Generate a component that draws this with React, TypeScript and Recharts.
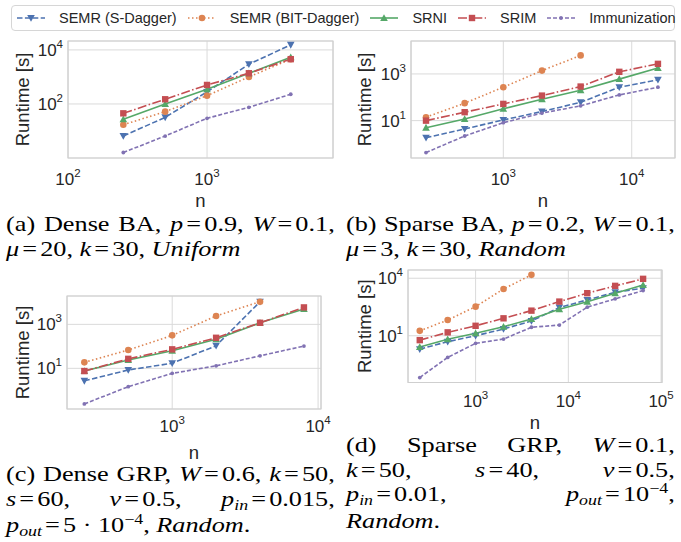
import React from 'react';
import { LineChart, Line, XAxis, YAxis, CartesianGrid, ReferenceArea, Label } from 'recharts';

// ---- data ----
const N_A = [250, 500, 1000, 2000, 4000];
const A_SDAGGER = [6.5, 32, 280, 2950, 15400];
const A_BIT = [17, 52, 203, 1000, 4550];
const A_SRNI = [27, 100, 350, 1370, 5350];
const A_SRIM = [45, 149, 505, 1370, 4550];
const A_IMM = [1.6, 6.5, 29.5, 75, 229];

const N_B = [250, 500, 1000, 2000, 4000, 8000, 16000];
const B_SDAGGER = [1.87, 4.4, 10.7, 24.5, 61, 270, 560];
const B_BIT = [14, 56, 270, 1390, 6200];
const B_SRNI = [5, 11.8, 32, 83, 200, 600, 1780];
const B_SRIM = [10, 23, 52, 118, 288, 1230, 2700];
const B_IMM = [0.43, 2.2, 8.2, 21, 43, 126, 270];

const N_C = [250, 500, 1000, 2000, 4000, 8000];
const C_SDAGGER = [2.7, 8.4, 17, 106, 10700];
const C_BIT = [18.7, 68, 316, 2400, 10700];
const C_SRNI = [7.5, 24, 63, 210, 1180, 5000];
const C_SRIM = [7.5, 27, 73, 245, 1180, 5900];
const C_IMM = [0.24, 1.46, 5.9, 13, 37, 103];

const N_D = [250, 500, 1000, 2000, 4000, 8000, 16000, 32000, 64000];
const D_SDAGGER = [2.0, 4.9, 10, 22.4, 59, 295, 740, 1860, 3000];
const D_BIT = [18, 66, 330, 2750, 15000];
const D_SRNI = [2.6, 6.5, 13.4, 29.5, 75, 240, 600, 1660, 4470];
const D_SRIM = [5.9, 15, 33, 81, 204, 605, 1660, 4000, 9300];
const D_IMM = [0.066, 0.74, 4.0, 6.7, 27.7, 36, 310, 840, 2280];

const SERIES_NAMES = ['SEMR (S-Dagger)', 'SEMR (BIT-Dagger)', 'SRNI', 'SRIM', 'Immunization'];
const Y_LABEL = 'Runtime [s]';
const X_LABEL = 'n';

const SANS = '"Liberation Sans", Arial, sans-serif';
const SERIF = '"Liberation Serif", "Times New Roman", serif';
const INK = '#262626';

const STYLES = [
  { key: 'sd', color: '#4C72B0', dash: '5.5 2.4', marker: 'triDown' },
  { key: 'bit', color: '#DD8452', dash: '1.5 2.5', marker: 'circle' },
  { key: 'srni', color: '#55A868', dash: undefined, marker: 'triUp' },
  { key: 'srim', color: '#C44E52', dash: '9 2.4 1.5 2.4', marker: 'square' },
  { key: 'imm', color: '#8172B3', dash: '4 2', marker: 'small' },
];

function buildRows(ns: number[], sd: number[], bit: number[], srni: number[], srim: number[], imm: number[]) {
  return ns.map((n, i) => ({ n, sd: sd[i], bit: bit[i], srni: srni[i], srim: srim[i], imm: imm[i] }));
}

function Marker({ kind, cx, cy, color }: { kind: string; cx: number; cy: number; color: string }) {
  if (kind === 'triDown')
    return <polygon points={`${cx - 3.8},${cy - 3} ${cx + 3.8},${cy - 3} ${cx},${cy + 3.8}`} fill={color} />;
  if (kind === 'triUp')
    return <polygon points={`${cx - 3.8},${cy + 3} ${cx + 3.8},${cy + 3} ${cx},${cy - 3.8}`} fill={color} />;
  if (kind === 'square') return <rect x={cx - 3.2} y={cy - 3.2} width={6.4} height={6.4} fill={color} />;
  if (kind === 'circle') return <circle cx={cx} cy={cy} r={3.3} fill={color} />;
  return <circle cx={cx} cy={cy} r={1.9} fill={color} />;
}

const makeDot = (kind: string, color: string) => (props: any) => {
  const { cx, cy, value, key, index } = props;
  if (cx == null || cy == null || value == null) return <g key={key ?? index} />;
  return <Marker key={key ?? index} kind={kind} cx={cx} cy={cy} color={color} />;
};

const xTick = (dy: number) => (props: any) => {
  const { x, y, payload } = props;
  const e = Math.round(Math.log10(payload.value));
  return (
    <text x={x} y={y + dy} textAnchor="middle" fill={INK} fontSize={17} fontFamily={SANS}>
      <tspan>10</tspan>
      <tspan dy={-8} fontSize={11.5}>{e}</tspan>
    </text>
  );
};

const yTick = (props: any) => {
  const { x, y, payload } = props;
  const e = Math.round(Math.log10(payload.value));
  return (
    <text x={x - 5} y={y + 6} textAnchor="end" fill={INK} fontSize={17} fontFamily={SANS}>
      <tspan>10</tspan>
      <tspan dy={-8} fontSize={11.5}>{e}</tspan>
    </text>
  );
};

type PanelProps = {
  left: number; top: number; width: number; height: number;
  mTop: number; mRight: number; yw: number; xh: number;
  xDomain: number[]; yDomain: number[]; xTicks: number[]; yTicks: number[];
  tickDy: number; nDy: number; yLabelX: number; rows: any[];
};

function Panel(p: PanelProps) {
  const plotTop = p.mTop;
  const plotBottom = p.height - p.xh;
  const plotLeft = p.yw;
  const plotRight = p.width - p.mRight;
  const cy = (plotTop + plotBottom) / 2;
  return (
    <div style={{ position: 'absolute', left: p.left, top: p.top }}>
      <LineChart width={p.width} height={p.height} data={p.rows}
        margin={{ top: p.mTop, right: p.mRight, left: 0, bottom: 0 }}>
        <CartesianGrid stroke="#dadada" strokeWidth={1} />
        <XAxis dataKey="n" type="number" scale="log" domain={p.xDomain} allowDataOverflow
          ticks={p.xTicks} interval={0} tick={xTick(p.tickDy)} tickLine={false} axisLine={false}
          tickSize={0} tickMargin={0} height={p.xh}>
          <Label content={() => (
            <text x={(plotLeft + plotRight) / 2} y={plotBottom + p.nDy} textAnchor="middle"
              dominantBaseline="central" fill={INK} fontSize={18.5} fontFamily={SANS}>{X_LABEL}</text>
          )} />
        </XAxis>
        <YAxis type="number" scale="log" domain={p.yDomain} allowDataOverflow
          ticks={p.yTicks} interval={0} tick={yTick} tickLine={false} axisLine={false}
          tickSize={0} tickMargin={0} width={p.yw}>
          <Label content={() => (
            <text x={p.yLabelX} y={cy} transform={`rotate(-90 ${p.yLabelX} ${cy})`} textAnchor="middle"
              dominantBaseline="central" fill={INK} fontSize={18.5} fontFamily={SANS}>{Y_LABEL}</text>
          )} />
        </YAxis>
        <ReferenceArea x1={p.xDomain[0]} x2={p.xDomain[1]} y1={p.yDomain[0]} y2={p.yDomain[1]}
          fill="#ffffff" fillOpacity={0} stroke="#cfcfcf" strokeWidth={1.2} ifOverflow="visible" />
        {STYLES.map((s) => (
          <Line key={s.key} dataKey={s.key} stroke={s.color} strokeWidth={1.6}
            strokeDasharray={s.dash} dot={makeDot(s.marker, s.color)} activeDot={false}
            isAnimationActive={false} connectNulls={false} />
        ))}
      </LineChart>
    </div>
  );
}

function LegendBox() {
  return (
    <div style={{
      position: 'absolute', left: 11, top: 5, width: 664, height: 26, border: '1px solid #d6d6d6',
      borderRadius: 4, background: '#fff', display: 'flex', alignItems: 'center', paddingLeft: 5,
      boxSizing: 'border-box', fontFamily: SANS, fontSize: 14.5, color: INK, whiteSpace: 'nowrap',
    }}>
      {STYLES.map((s, i) => (
        <div key={s.key} style={{ display: 'flex', alignItems: 'center', marginRight: 11 }}>
          <svg width={28} height={10} style={{ marginRight: 14 }}>
            <line x1={0} y1={5} x2={28} y2={5} stroke={s.color} strokeWidth={1.6} strokeDasharray={s.dash} />
            <Marker kind={s.marker} cx={14} cy={5} color={s.color} />
          </svg>
          <span>{SERIES_NAMES[i]}</span>
        </div>
      ))}
    </div>
  );
}

const EQ = <span style={{ margin: '0 2.5px' }}>=</span>;
const Sub = ({ children }: { children: React.ReactNode }) => (
  <span style={{ fontSize: '0.68em', position: 'relative', top: 4, fontStyle: 'italic' }}>{children}</span>
);
const Sup = ({ children }: { children: React.ReactNode }) => (
  <span style={{ fontSize: '0.68em', position: 'relative', top: -8 }}>{children}</span>
);

function JLine({ words }: { words: React.ReactNode[] }) {
  return (
    <div style={{ display: 'flex', justifyContent: 'space-between', whiteSpace: 'nowrap' }}>
      {words.map((w, i) => <span key={i}>{w}</span>)}
    </div>
  );
}
function LLine({ words }: { words: React.ReactNode[] }) {
  return (
    <div style={{ display: 'flex', gap: 5.2, whiteSpace: 'nowrap' }}>
      {words.map((w, i) => <span key={i}>{w}</span>)}
    </div>
  );
}

function Caption({ left, top, children }: { left: number; top: number; children: React.ReactNode }) {
  return (
    <div style={{
      position: 'absolute', left, top, width: 263, transform: 'scaleX(1.25)', transformOrigin: 'left top',
      fontFamily: SERIF, fontSize: 21, lineHeight: '24.5px', color: '#000',
    }}>
      {children}
    </div>
  );
}

export default function App() {
  const rowsA = buildRows(N_A, A_SDAGGER, A_BIT, A_SRNI, A_SRIM, A_IMM);
  const rowsB = buildRows(N_B, B_SDAGGER, B_BIT, B_SRNI, B_SRIM, B_IMM);
  const rowsC = buildRows(N_C, C_SDAGGER, C_BIT, C_SRNI, C_SRIM, C_IMM);
  const rowsD = buildRows(N_D, D_SDAGGER, D_BIT, D_SRNI, D_SRIM, D_IMM);
  const p10 = (e: number) => Math.pow(10, e);

  return (
    <div style={{ position: 'absolute', left: 0, top: 0, width: 681, height: 542, overflow: 'hidden', background: '#fff' }}>
      <LegendBox />

      <Panel left={0} top={30} width={340} height={182} mTop={11} mRight={7} yw={68} xh={54}
        xDomain={[100, p10(3.906)]} yDomain={[1, p10(4.33)]} xTicks={[100, 1000]} yTicks={[100, 10000]}
        tickDy={27} nDy={42} yLabelX={22} rows={rowsA} />
      <Panel left={340} top={30} width={341} height={182} mTop={11} mRight={6} yw={71} xh={54}
        xDomain={[p10(2.281), p10(4.337)]} yDomain={[p10(-0.6), p10(4.41)]} xTicks={[1000, 10000]} yTicks={[10, 1000]}
        tickDy={27} nDy={42} yLabelX={24} rows={rowsB} />
      <Panel left={0} top={280} width={340} height={186} mTop={16} mRight={19} yw={67} xh={57}
        xDomain={[p10(2.279), p10(4.02)]} yDomain={[p10(-0.85), p10(4.29)]} xTicks={[1000, 10000]} yTicks={[10, 1000]}
        tickDy={23} nDy={43} yLabelX={22} rows={rowsC} />
      <Panel left={340} top={262} width={341} height={174} mTop={8} mRight={19} yw={68} xh={53.5}
        xDomain={[p10(2.271), p10(5.01)]} yDomain={[p10(-1.44), p10(4.43)]} xTicks={[1000, 10000, 100000]} yTicks={[10, 10000]}
        tickDy={24} nDy={40} yLabelX={24} rows={rowsD} />

      <Caption left={6} top={212}>
        <JLine words={['(a)', 'Dense', 'BA,', <><i>p</i>{EQ}0.9,</>, <><i>W</i>{EQ}0.1,</>]} />
        <LLine words={[<><i>μ</i>{EQ}20,</>, <><i>k</i>{EQ}30,</>, <i>Uniform</i>]} />
      </Caption>
      <Caption left={346} top={212}>
        <JLine words={['(b)', 'Sparse', 'BA,', <><i>p</i>{EQ}0.2,</>, <><i>W</i>{EQ}0.1,</>]} />
        <LLine words={[<><i>μ</i>{EQ}3,</>, <><i>k</i>{EQ}30,</>, <i>Random</i>]} />
      </Caption>
      <Caption left={6} top={462}>
        <JLine words={['(c)', 'Dense', 'GRP,', <><i>W</i>{EQ}0.6,</>, <><i>k</i>{EQ}50,</>]} />
        <JLine words={[<><i>s</i>{EQ}60,</>, <><i>v</i>{EQ}0.5,</>, <><i>p</i><Sub>in</Sub>{EQ}0.015,</>]} />
        <LLine words={[<><i>p</i><Sub>out</Sub>{EQ}5 · 10<Sup>−4</Sup>,</>, <><i>Random</i>.</>]} />
      </Caption>
      <Caption left={346} top={433}>
        <JLine words={['(d)', 'Sparse', 'GRP,', <><i>W</i>{EQ}0.1,</>]} />
        <JLine words={[<><i>k</i>{EQ}50,</>, <><i>s</i>{EQ}40,</>, <><i>v</i>{EQ}0.5,</>]} />
        <JLine words={[<><i>p</i><Sub>in</Sub>{EQ}0.01,</>, <><i>p</i><Sub>out</Sub>{EQ}10<Sup>−4</Sup>,</>]} />
        <LLine words={[<><i>Random</i>.</>]} />
      </Caption>
    </div>
  );
}
